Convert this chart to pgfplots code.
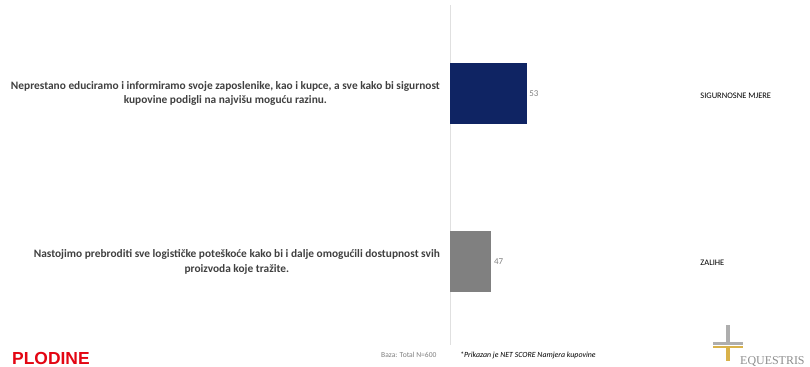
\documentclass[border=0pt]{standalone}
\usepackage{pgfplots}
\pgfplotsset{compat=1.18}
\usepackage{fontspec}
\setmainfont{Carlito}
\newfontfamily\arialfont{Liberation Sans}
\newfontfamily\seriffont{Liberation Serif}
\definecolor{navy}{HTML}{0F2463}
\definecolor{bargray}{HTML}{808080}
\definecolor{txtgray}{HTML}{404040}
\definecolor{axgray}{HTML}{E0E0E0}
\definecolor{plred}{HTML}{E30613}
\definecolor{gold}{HTML}{D9B24A}
\definecolor{logogray}{HTML}{8C8C8C}
\begin{document}
\begin{tikzpicture}
\useasboundingbox (0,0) rectangle (810bp,367bp);
\begin{axis}[
  at={(450bp,22bp)}, anchor=south west,
  scale only axis, width=360bp, height=340bp,
  xbar, bar width=61bp, bar shift=0pt,
  xmin=40, xmax=101,
  ymin=-0.525, ymax=1.4926, y dir=reverse,
  axis x line=none,
  axis y line*=left,
  y axis line style={draw=axgray, line width=0.8pt},
  ytick={0,1}, major tick length=0pt,
  /pgf/number format/assume math mode=true,
  yticklabels={{Neprestano educiramo i informiramo svoje zaposlenike, kao i kupce, a sve kako bi sigurnost\\kupovine podigli na najvišu moguću razinu.},{Nastojimo prebroditi sve logističke poteškoće kako bi i dalje omogućili dostupnost svih\\proizvoda koje tražite.}},
  yticklabel style={align=center, font=\fontsize{11.4}{15}\selectfont\bfseries, text=txtgray, inner sep=0pt, xshift=-10bp},
  nodes near coords,
  nodes near coords style={font=\fontsize{9}{10}\selectfont, text=bargray, inner sep=2.5pt},
]
\addplot[fill=navy, draw=none] coordinates {(53,0)};
\addplot[fill=bargray, draw=none] coordinates {(47,1)};
\node[anchor=west, inner sep=0pt, font=\fontsize{8.5}{9}\selectfont] at (axis cs:82.4,0.015) {SIGURNOSNE MJERE};
\node[anchor=west, inner sep=0pt, font=\fontsize{8.5}{9}\selectfont] at (axis cs:82.4,1.005) {ZALIHE};
\end{axis}
% footer
\node[anchor=base west, inner sep=0pt, font=\arialfont\bfseries\fontsize{17.5}{18}\selectfont, text=plred] at (12bp,3bp) {PLODINE};
\node[anchor=base west, inner sep=0pt, font=\fontsize{7.6}{8}\selectfont, text=bargray] at (381bp,10bp) {Baza: Total N=600};
\node[anchor=base west, inner sep=0pt, font=\fontsize{7.9}{8}\selectfont\itshape] at (460bp,10bp) {*Prikazan je NET SCORE Namjera kupovine};
\node[anchor=base west, inner sep=0pt, font=\seriffont\fontsize{12}{13}\selectfont, text=logogray] at (740bp,2.5bp) {EQUESTRIS};
% simple cross emblem
\fill[logogray!70] (726bp,24bp) rectangle (730bp,42bp);
\fill[logogray!70] (713bp,22bp) rectangle (743bp,25bp);
\fill[gold] (726bp,6bp) rectangle (730bp,21bp);
\fill[gold] (713bp,18.5bp) rectangle (743bp,21bp);
\end{tikzpicture}
\end{document}
